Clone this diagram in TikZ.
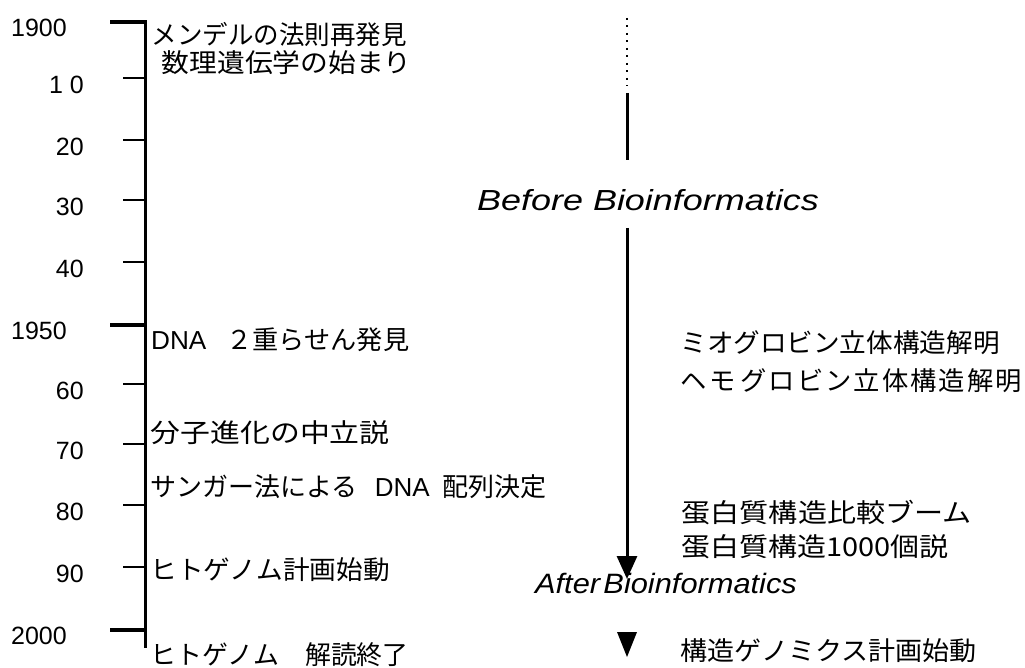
\documentclass[tikz,border=0pt]{standalone}
\usepackage{fontspec}
\setmainfont{Liberation Sans}
\newfontfamily\jp{Noto Sans CJK JP}
\newfontfamily\lat{Liberation Sans}
\usetikzlibrary{arrows.meta}
\newcommand{\fw}[2]{\resizebox{#1pt}{\height}{#2}}
\newcommand{\ls}{\hspace{2pt}}
\tikzset{
  yearlbl/.style={anchor=east, inner sep=0pt, font=\fontsize{25}{25}\selectfont},
  evtL/.style={anchor=west, inner sep=0pt, font=\jp\fontsize{26}{26}\selectfont},
  evtR/.style={anchor=west, inner sep=0pt, font=\jp\fontsize{26}{26}\selectfont},
  majortick/.style={line width=3.5pt},
  minortick/.style={line width=2pt},
  axisline/.style={line width=3pt},
  eraline/.style={line width=3pt},
  eralbl/.style={inner sep=0pt, font=\itshape\fontsize{29}{29}\selectfont},
}
\begin{document}
\begin{tikzpicture}[x=1pt,y=-1pt]
\useasboundingbox (0,0) rectangle (1025,668);
% axis
\coordinate (axtop) at (145,20.5);
\coordinate (axbot) at (145,648);
\draw[axisline] (axtop) -- (axbot);
% ticks
\foreach \yy/\lab in {22/1900,325/1950,630/2000}{
  \coordinate (mt\lab) at (110,\yy);
  \coordinate (ma\lab) at (145,\yy);
  \draw[majortick] (mt\lab) -- (ma\lab);
  \node[yearlbl] (y\lab) at (67,\yy+6) {\lab};
}
\foreach \yy/\lab/\nm in {78/1 0/a,140/20/b,200/30/c,262/40/d,384/60/e,444/70/f,505/80/g,567/90/h}{
  \coordinate (nt\nm) at (123,\yy);
  \coordinate (na\nm) at (145,\yy);
  \draw[minortick] (nt\nm) -- (na\nm);
  \node[yearlbl] (y\nm) at (84,\yy+7) {\lab};
}
% left events
\node[evtL] (e1) at (151.5,35) {\fw{255}{メンデルの法則再発見}};
\node[evtL] (e2) at (161.5,63) {\fw{250}{数理遺伝学の始まり}};
\node[evtL] (e3) at (151,340) {\fw{258}{{\lat DNA}\hspace{20pt}２重らせん発見}};
\node[evtL] (e4) at (150.5,433) {\fw{239}{分子進化の中立説}};
\node[evtL] (e5) at (150.5,487) {サンガー法による\hspace{17pt}{\lat DNA}\hspace{13pt}配列決定};
\node[evtL] (e6) at (150.5,570) {\fw{239}{ヒトゲノム計画始動}};
\node[evtL] (e7) at (150.5,655) {\fw{258}{ヒトゲノム　解読終了}};
% right events
\node[evtR] (r1) at (680.5,343) {\fw{319}{ミオグロビン立体構造解明}};
\node[evtR] (r2) at (680.5,381) {\fw{341}{ヘ\ls モ\hspace{5pt}グ\ls ロ\ls ビ\ls ン\ls 立\ls 体\ls 構\ls 造\ls 解\ls 明}};
\node[evtR] (r3) at (681.5,513) {\fw{290}{蛋白質構造比較ブーム}};
\node[evtR] (r4) at (681.5,547) {\fw{267}{蛋白質構造1000個説}};
\node[evtR] (r5) at (680.5,651) {\fw{296}{構造ゲノミクス計画始動}};
% era arrow
\node[eralbl] (before) at (648,200) {\scalebox{1.24}[1]{Before Bioinformatics}};
\node[eralbl, font=\itshape\fontsize{28}{28}\selectfont] (after) at (666,583) {\scalebox{1.1}[1]{After\hspace{3pt}Bioinformatics}};
\coordinate (d1) at (627,18);
\coordinate (d2) at (627,86);
\coordinate (s1) at (627,93);
\coordinate (s2) at (627,160);
\coordinate (s3) at (627,228);
\coordinate (s4) at (627,579);
\draw[line width=2.5pt, dash pattern=on 2pt off 5.5pt] (d1) -- (d2);
\draw[eraline] (s1) -- (s2);
\draw[eraline, -{Triangle[width=20pt,length=23pt]}] (s3) -- (s4);
\coordinate (t1) at (617,632);
\coordinate (t2) at (637,632);
\coordinate (t3) at (627,657);
\fill (t1) -- (t2) -- (t3) -- cycle;
\end{tikzpicture}
\end{document}
